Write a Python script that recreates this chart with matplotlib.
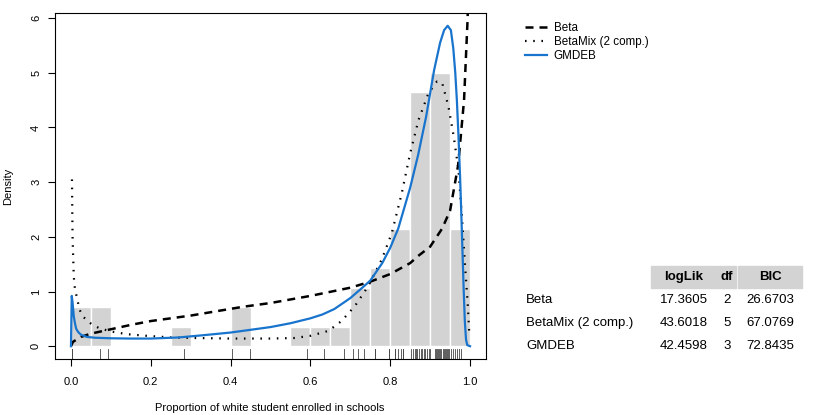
import numpy as np
import matplotlib
matplotlib.use('Agg')
import matplotlib.pyplot as plt
from matplotlib.lines import Line2D

plt.rcParams['font.family'] = ['Liberation Sans', 'DejaVu Sans']

# observed proportions (rug), histogram is built from these
obs = [0.003, 0.003, 0.072, 0.094, 0.283, 0.403, 0.449, 0.592, 0.635, 0.683,
       0.706, 0.719, 0.734, 0.762, 0.762, 0.797, 0.797,
       0.811, 0.811, 0.819, 0.827, 0.833, 0.833,
       0.853, 0.857, 0.861, 0.864, 0.868, 0.872, 0.876, 0.880, 0.884, 0.888,
       0.892, 0.896, 0.899,
       0.911, 0.914, 0.917, 0.920, 0.923, 0.925, 0.928, 0.931, 0.934, 0.937,
       0.940, 0.943, 0.946, 0.948,
       0.953, 0.958, 0.963, 0.967, 0.972, 0.977]
bin_edges = [0.0, 0.05, 0.1, 0.15, 0.2, 0.25, 0.3, 0.35, 0.4, 0.45, 0.5,
             0.55, 0.6, 0.65, 0.7, 0.75, 0.8, 0.85, 0.9, 0.95, 1.0]

# fitted densities
beta_x = [0.0, 0.005, 0.025, 0.05, 0.1, 0.15, 0.2, 0.3, 0.43, 0.5, 0.6, 0.7,
          0.75, 0.8, 0.85, 0.87, 0.9, 0.93, 0.95, 0.97, 0.985, 0.994, 0.999]
beta_y = [0.0, 0.08, 0.17, 0.23, 0.31, 0.39, 0.46, 0.56, 0.72, 0.79, 0.92, 1.07,
          1.18, 1.32, 1.52, 1.65, 1.82, 2.15, 2.48, 3.3, 4.5, 6.0, 8.0]

mix_x = [0.0025, 0.004, 0.007, 0.010, 0.015, 0.021, 0.029, 0.042, 0.054, 0.071,
         0.10, 0.14, 0.19, 0.25, 0.31, 0.4, 0.5, 0.56, 0.6, 0.645, 0.678,
         0.712, 0.745, 0.779, 0.804, 0.829, 0.85, 0.871, 0.896, 0.917, 0.93,
         0.946, 0.959, 0.971, 0.98, 0.988, 0.994, 0.998]
mix_y = [3.05, 2.0, 1.28, 1.04, 0.89, 0.68, 0.55, 0.46, 0.39, 0.33,
         0.27, 0.22, 0.19, 0.16, 0.15, 0.14, 0.14, 0.15, 0.19, 0.28, 0.46,
         0.74, 1.10, 1.59, 2.07, 2.80, 3.53, 4.14, 4.63, 4.84, 4.82,
         4.38, 3.84, 3.23, 2.32, 1.41, 0.80, 0.25]

gm_x = [0.0, 0.002, 0.004, 0.007, 0.010, 0.013, 0.018, 0.025, 0.04, 0.06, 0.10,
        0.15, 0.2, 0.27, 0.33, 0.4, 0.45, 0.5, 0.55, 0.6, 0.63, 0.66, 0.7, 0.73,
        0.75, 0.78, 0.8, 0.82, 0.85, 0.87, 0.89, 0.91, 0.925, 0.935, 0.944,
        0.952, 0.958, 0.963, 0.967, 0.971, 0.975, 0.978, 0.981, 0.984, 0.987,
        0.99, 0.993, 1.0]
gm_y = [0.0, 0.92, 0.80, 0.55, 0.42, 0.32, 0.26, 0.21, 0.17, 0.155, 0.145,
        0.14, 0.14, 0.16, 0.20, 0.25, 0.30, 0.35, 0.42, 0.51, 0.58, 0.68, 0.88,
        1.07, 1.20, 1.52, 1.80, 2.15, 2.9, 3.5, 4.2, 5.05, 5.55, 5.78, 5.86,
        5.78, 5.45, 5.00, 4.50, 3.85, 3.10, 2.45, 1.75, 1.05, 0.45, 0.12, 0.02, 0.0]

x_ticks = [0.0, 0.2, 0.4, 0.6, 0.8, 1.0]
y_ticks = [0, 1, 2, 3, 4, 5, 6]

models = ['Beta', 'BetaMix (2 comp.)', 'GMDEB']
loglik = ['17.3605', '43.6018', '42.4598']
df = ['2', '5', '3']
bic = ['26.6703', '67.0769', '72.8435']

W, H = 830, 415
fig = plt.figure(figsize=(W / 100, H / 100), dpi=100)

def fx(px):
    return px / W

def fy(py):
    return 1 - py / H

ax = fig.add_axes([fx(55), fy(359), fx(486) - fx(55), fy(13) - fy(359)])

ax.hist(obs, bins=bin_edges, density=True, color='#d3d3d3', edgecolor='white', linewidth=1.0)

blue = '#1874CD'
dash = (0, (3.2, 2.4))
dots = (0, (0.7, 3.0))
ax.plot(beta_x, beta_y, color='black', lw=1.8, linestyle=dash)
ax.plot(mix_x, mix_y, color='black', lw=1.6, linestyle=dots)
ax.plot(gm_x, gm_y, color=blue, lw=1.6)

# rug
rug_tr = ax.get_xaxis_transform()
for v in obs:
    ax.plot([v, v], [0, 0.03], color='#444444', lw=0.6, transform=rug_tr, clip_on=False)

ax.set_xlim(-0.04, 1.04)
ax.set_ylim(-0.234, 6.094)
ax.set_xticks(x_ticks)
ax.set_xticklabels(['0.0', '0.2', '0.4', '0.6', '0.8', '1.0'])
ax.set_yticks(y_ticks)
ax.set_yticklabels([str(t) for t in y_ticks], rotation=90, va='center')
ax.tick_params(axis='both', direction='out', length=5, width=0.8, labelsize=8)
ax.tick_params(axis='x', pad=8)
ax.tick_params(axis='y', pad=5)
for s in ax.spines.values():
    s.set_linewidth(0.8)

fig.text(fx(270), fy(408), 'Proportion of white student enrolled in schools',
         ha='center', va='center', fontsize=8)
fig.text(fx(8), fy(186), 'Density', rotation=90, ha='center', va='center', fontsize=8)

# legend
handles = [Line2D([], [], color='black', lw=1.8, linestyle=dash),
           Line2D([], [], color='black', lw=1.6, linestyle=dots),
           Line2D([], [], color=blue, lw=1.6)]
fig.legend(handles, models, loc='upper left', bbox_to_anchor=(fx(520), fy(17)),
           frameon=False, fontsize=8.4, handlelength=1.9, handletextpad=0.6,
           labelspacing=0.2, borderaxespad=0)

# table
hdr_top, hdr_bot = 266, 288
cells = [(651, 717), (718, 736), (738, 802)]
for (x0, x1), name in zip(cells, ['logLik', 'df', 'BIC']):
    fig.patches.append(plt.Rectangle((fx(x0), fy(hdr_bot)), fx(x1) - fx(x0),
                                     fy(hdr_top) - fy(hdr_bot), color='#d3d3d3',
                                     transform=fig.transFigure, figure=fig))
    fig.text(fx((x0 + x1) / 2), fy(277), name, ha='center', va='center',
             fontsize=9.5, fontweight='bold')

row_y = [300, 323, 346]
for i, ry in enumerate(row_y):
    fig.text(fx(526), fy(ry), models[i], ha='left', va='center', fontsize=9.5)
    fig.text(fx(684), fy(ry), loglik[i], ha='center', va='center', fontsize=9.5)
    fig.text(fx(727), fy(ry), df[i], ha='center', va='center', fontsize=9.5)
    fig.text(fx(770), fy(ry), bic[i], ha='center', va='center', fontsize=9.5)

fig.savefig('out.png', dpi=100)
